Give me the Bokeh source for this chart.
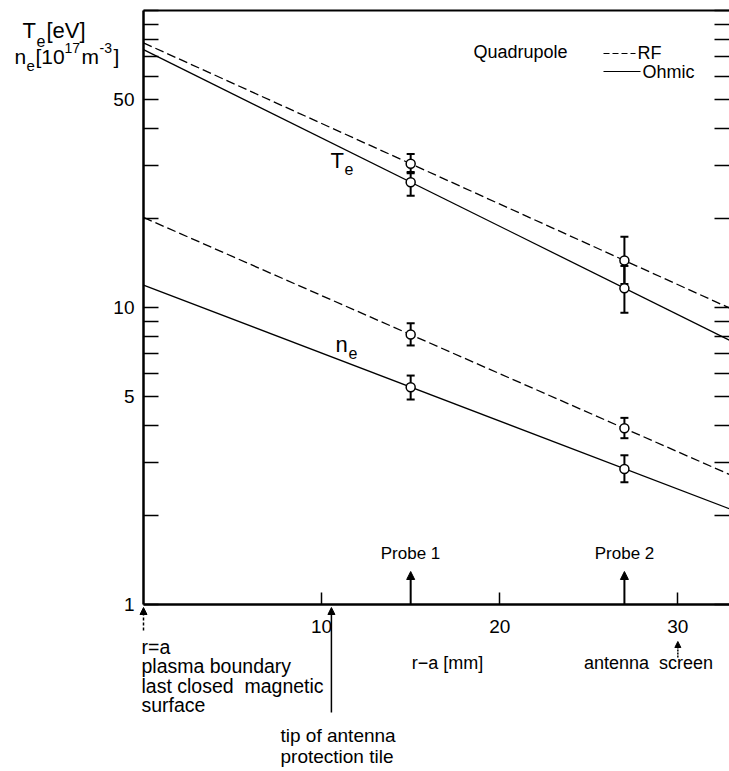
from bokeh.plotting import figure
from bokeh.models import (LinearAxis, LogAxis, FixedTicker, PrintfTickFormatter,
                          Label, Arrow, NormalHead, Whisker, TeeHead, ColumnDataSource)
from bokeh.embed import file_html
from bokeh.resources import INLINE

# probe positions, r - a in mm
probe_pos = [15, 27]

# electron temperature T_e [eV] at the two probes
te_ohmic = [26.4, 11.6]
te_ohmic_lo = [23.8, 9.6]
te_ohmic_hi = [28.6, 13.8]
te_rf = [30.5, 14.4]
te_rf_lo = [28.3, 12.0]
te_rf_hi = [32.9, 17.3]

# electron density n_e [1e17 m^-3] at the two probes
ne_ohmic = [5.39, 2.86]
ne_ohmic_lo = [4.90, 2.58]
ne_ohmic_hi = [5.90, 3.18]
ne_rf = [8.11, 3.92]
ne_rf_lo = [7.45, 3.63]
ne_rf_hi = [8.85, 4.25]

# exponential decay fits, evaluated at the boundary and at the edge of the plot
fit_x = [0, 32.9]
te_rf_fit = [77.8, 9.96]
te_ohmic_fit = [73.8, 7.76]
ne_rf_fit = [20.1, 2.74]
ne_ohmic_fit = [11.9, 2.10]

# axis ticks
x_ticks = [10, 20, 30]
y_major = [1, 5, 10, 50]
y_minor = [2, 3, 4, 6, 7, 8, 9, 20, 30, 40, 60, 70, 80, 90, 100]

# marked positions below the axis
boundary_pos = 0
tile_pos = 10.55
screen_pos = 30

FONT = "Liberation Sans"
NBSP = "\u00a0"
W, H = 729, 771
X0, X1 = 143, 729          # pixel columns of r-a = 0 and r-a = XMAX
Y_BOT, DECADE = 604, 297   # pixel row of the value 1 and pixels per decade
XMAX = 32.9
YMIN, YMAX = 1, 100


def dx(xp):
    return (xp - X0) * XMAX / (X1 - X0)


def dy(yp):
    return 10 ** ((Y_BOT - yp) / DECADE)


# the frame spans the whole canvas; the axes sit at fixed data positions
p = figure(width=W, height=H, x_range=(dx(0), dx(W)), y_range=(dy(H), dy(0)),
           y_axis_type="log", x_axis_location=None, y_axis_location=None,
           output_backend="svg", toolbar_location=None,
           min_border_left=0, min_border_right=0, min_border_top=0,
           min_border_bottom=0, outline_line_color=None,
           background_fill_color="white", border_fill_color="white")
p.grid.visible = False

left = LogAxis(ticker=FixedTicker(ticks=y_major, minor_ticks=y_minor),
               formatter=PrintfTickFormatter(format="%d"),
               fixed_location=0, bounds=(YMIN, YMAX),
               axis_line_width=2.5, major_tick_in=15, major_tick_out=0,
               minor_tick_in=15, minor_tick_out=0, major_tick_line_width=1.5,
               minor_tick_line_width=1.5, major_label_standoff=9,
               major_label_text_font=FONT, major_label_text_font_size="19px",
               major_label_text_color="black")
p.add_layout(left, "left")

# right-hand ticks only, without labels
right = LogAxis(ticker=FixedTicker(ticks=[], minor_ticks=y_major + y_minor),
                fixed_location=XMAX, bounds=(YMIN, YMAX),
                axis_line_color=None, major_tick_line_color=None,
                minor_tick_in=15, minor_tick_out=0, minor_tick_line_width=1.5)
p.add_layout(right, "right")

bottom = LinearAxis(ticker=FixedTicker(ticks=x_ticks), fixed_location=YMIN,
                    bounds=(0, XMAX), axis_line_width=2.5,
                    major_tick_in=12, major_tick_out=0, minor_tick_line_color=None,
                    major_tick_line_width=1.5, major_label_standoff=15,
                    major_label_text_font=FONT, major_label_text_font_size="19px",
                    major_label_text_color="black")
p.add_layout(bottom, "below")

top = LinearAxis(ticker=FixedTicker(ticks=[]), fixed_location=YMAX,
                 bounds=(0, XMAX), axis_line_width=2,
                 major_tick_line_color=None, minor_tick_line_color=None)
p.add_layout(top, "above")

# fitted profiles
p.line(fit_x, te_rf_fit, line_color="black", line_width=1.3, line_dash="9 4")
p.line(fit_x, te_ohmic_fit, line_color="black", line_width=1.3)
p.line(fit_x, ne_rf_fit, line_color="black", line_width=1.3, line_dash="9 4")
p.line(fit_x, ne_ohmic_fit, line_color="black", line_width=1.3)

# measured points with error bars
for vals, lo, hi in [(te_ohmic, te_ohmic_lo, te_ohmic_hi), (te_rf, te_rf_lo, te_rf_hi),
                     (ne_ohmic, ne_ohmic_lo, ne_ohmic_hi), (ne_rf, ne_rf_lo, ne_rf_hi)]:
    src = ColumnDataSource(dict(x=probe_pos, y=vals, lo=lo, hi=hi))
    p.add_layout(Whisker(source=src, base="x", lower="lo", upper="hi",
                         line_width=2, line_color="black",
                         lower_head=TeeHead(size=8, line_width=2),
                         upper_head=TeeHead(size=8, line_width=2)))
    p.scatter("x", "y", source=src, size=9, fill_color="white",
              line_color="black", line_width=1.5)

# probe arrows above the axis
for xpos in probe_pos:
    p.add_layout(Arrow(end=NormalHead(size=8, fill_color="black", line_color="black"),
                       x_start=xpos, y_start=YMIN, x_end=xpos, y_end=dy(571),
                       line_width=2, line_color="black"))

# arrows below the axis
p.add_layout(Arrow(end=NormalHead(size=7, fill_color="black", line_color="black"),
                   x_start=boundary_pos, y_start=dy(630), x_end=boundary_pos, y_end=dy(607),
                   line_width=1.5, line_dash="3 2", line_color="black"))
p.add_layout(Arrow(end=NormalHead(size=7, fill_color="black", line_color="black"),
                   x_start=tile_pos, y_start=dy(712), x_end=tile_pos, y_end=dy(607),
                   line_width=1.5, line_color="black"))
p.add_layout(Arrow(end=NormalHead(size=6, fill_color="black", line_color="black"),
                   x_start=screen_pos, y_start=dy(657), x_end=screen_pos, y_end=dy(641),
                   line_width=1.5, line_dash="2 1", line_color="black"))


def txt(s, xp, yp, size=18, align="left", baseline="middle"):
    p.add_layout(Label(x=dx(xp), y=dy(yp), text=s, text_font=FONT,
                       text_font_size=f"{size}px", text_color="black",
                       text_align=align, text_baseline=baseline))


# axis title with sub/superscripts
txt("T", 22, 30, 22)
txt("e", 36, 40, 16)
txt("[eV]", 46, 30, 22)
txt("n", 14, 56, 21)
txt("e", 26, 65, 15)
txt("[10", 35, 56, 21)
txt("17", 64, 47, 14)
txt("m", 81, 56, 21)
txt("-3", 99, 47, 14)
txt("]", 113, 56, 21)

# curve labels
txt("T", 330, 160, 22)
txt("e", 344, 168, 16)
txt("n", 335, 344, 22)
txt("e", 348, 352, 16)

# legend
txt("Quadrupole", 473, 51, 18)
p.line([dx(603), dx(635)], [dy(53), dy(53)], line_color="black", line_width=1.2,
       line_dash="6 3")
txt("RF", 637, 52, 18)
p.line([dx(603), dx(640)], [dy(71), dy(71)], line_color="black", line_width=1.2)
txt("Ohmic", 642, 71, 18)

# probe labels
txt("Probe 1", 410, 553, 17, "center")
txt("Probe 2", 624, 553, 17, "center")

# annotations below the axis
txt("r=a", 141, 646, 19.5)
txt("plasma boundary", 141, 665, 19.5)
txt("last closed" + NBSP + " magnetic", 141, 685, 19.5)
txt("surface", 141, 704, 19.5)
txt("tip of antenna", 280, 735, 19)
txt("protection tile", 280, 756, 19)
txt("r\u2212a [mm]", 447, 662, 18, "center")
txt("antenna" + NBSP + " screen", 648, 662, 18, "center")

open("out.html", "w").write(file_html(p, INLINE))
